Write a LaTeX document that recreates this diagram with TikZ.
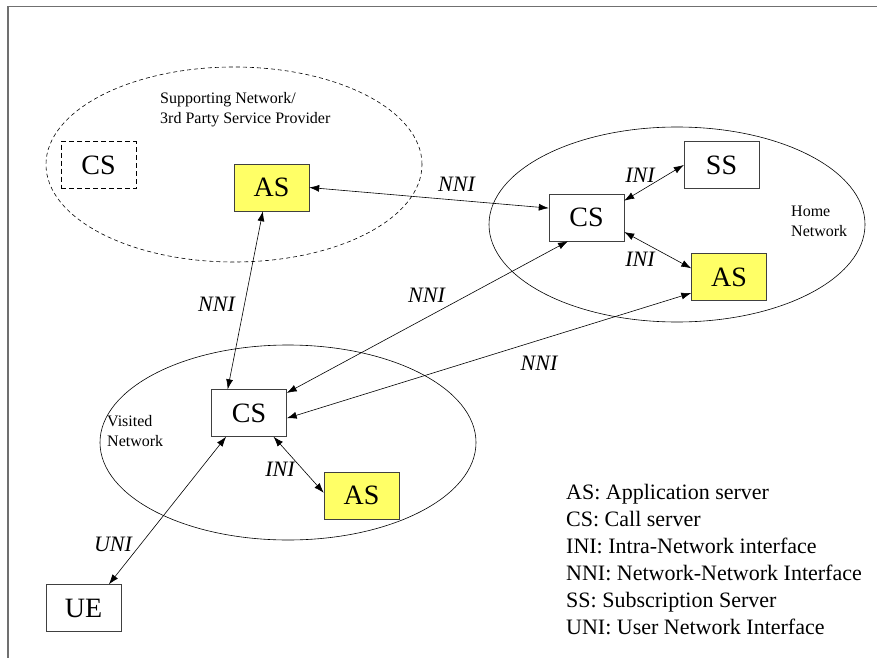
\documentclass[tikz,border=0pt]{standalone}
\usepackage{fontspec}
\setmainfont{Liberation Serif}
\usetikzlibrary{arrows.meta,shapes.geometric}

\definecolor{asyellow}{HTML}{FFFF66}
\definecolor{framegray}{HTML}{707070}

\tikzset{
  srvbox/.style={draw=black!75,minimum width=75pt,minimum height=47pt,inner sep=0pt,font=\fontsize{28}{30}\selectfont},
  appbox/.style={srvbox,fill=asyellow},
  netarea/.style={draw,ellipse,minimum width=376pt,minimum height=195pt,inner sep=0pt,line width=0.6pt},
  netname/.style={anchor=north west,align=left,inner sep=0pt,font=\fontsize{16}{20}\selectfont},
  ifname/.style={font=\fontsize{22}{24}\selectfont\itshape},
  legend/.style={anchor=base west,inner sep=0pt,font=\fontsize{22}{24}\selectfont},
  link/.style={<->,>={Latex[length=10pt,width=7pt]},line width=0.6pt}
}

\begin{document}
\begin{tikzpicture}[x=1pt,y=-1pt]
\useasboundingbox (0,0) rectangle (877,658);
\draw[framegray,line width=1.5pt] (877,6.5) -- (8,6.5) -- (8,658);

% networks
\node[netarea,dash pattern=on 4pt off 3pt] (sup) at (234,164.5) {};
\node[netarea] (home) at (677,224.5) {};
\node[netarea] (vis) at (288,442.5) {};
\node[netname] (supname) at (160,92.5) {Supporting Network/\\3rd Party Service Provider};
\node[netname] (homename) at (791,205.5) {Home\\Network};
\node[netname] (visname) at (107,415.5) {Visited\\Network};

% servers
\node[srvbox,dash pattern=on 5pt off 3pt,draw=black] (scs) at (98.5,165) {CS};
\node[appbox] (sas) at (271.5,187.5) {AS};
\node[srvbox] (hcs) at (586.5,217.5) {CS};
\node[srvbox] (ss) at (721.5,165) {SS};
\node[appbox] (has) at (729,277) {AS};
\node[srvbox] (vcs) at (249,413) {CS};
\node[appbox] (vas) at (361.5,495.5) {AS};
\node[srvbox] (ue) at (83.5,608) {UE};

% interfaces
\draw[link] (sas.east) -- (hcs.166);
\draw[link] (sas.250) -- (vcs.132);
\draw[link] (hcs.232) -- (vcs.28);
\draw[link] (has.203) -- (vcs.352);
\draw[link] (hcs.24) -- (ss.west);
\draw[link] (hcs.339) -- (has.167);
\draw[link] (vcs.316) -- (vas.176);
\draw[link] (vcs.226) -- (ue.43);

\node[ifname] (nni1) at (456.5,184) {NNI};
\node[ifname] (nni2) at (216.5,304) {NNI};
\node[ifname] (nni3) at (426.5,295.5) {NNI};
\node[ifname] (nni4) at (539,363) {NNI};
\node[ifname] (ini1) at (640,175.5) {INI};
\node[ifname] (ini2) at (640,259.5) {INI};
\node[ifname] (ini3) at (280,469.5) {INI};
\node[ifname] (uni) at (113,544) {UNI};

% legend
\foreach \t [count=\n] in {AS: Application server,CS: Call server,INI: Intra-Network interface,NNI: Network-Network Interface,SS: Subscription Server,UNI: User Network Interface}
  \node[legend] (leg\n) at (566,472+27*\n) {\t};
\end{tikzpicture}
\end{document}
